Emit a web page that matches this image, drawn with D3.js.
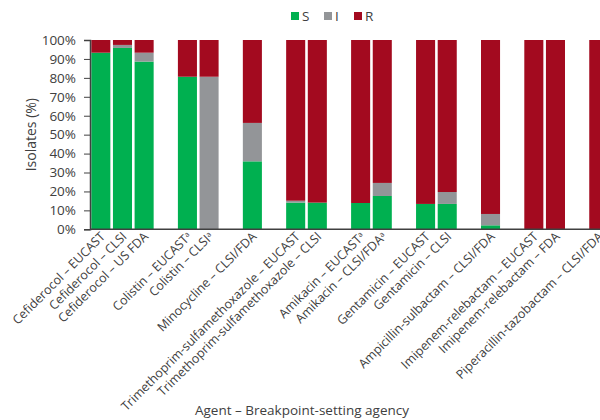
<!DOCTYPE html>
<html>
<head>
<meta charset="utf-8">
<script src="https://cdn.jsdelivr.net/npm/d3@7"></script>
<style>
  body { margin: 0; background: #fff; }
  svg text { font-family: "Open Sans", sans-serif; fill: #404040; }
</style>
</head>
<body>
<svg id="chart" width="600" height="420"></svg>
<script>
// agent – breakpoint-setting agency
const categories = [
  'Cefiderocol – EUCAST', 'Cefiderocol – CLSI', 'Cefiderocol – US FDA',
  'Colistin – EUCAST', 'Colistin – CLSI',
  'Minocycline – CLSI/FDA',
  'Trimethoprim-sulfamethoxazole – EUCAST', 'Trimethoprim-sulfamethoxazole – CLSI',
  'Amikacin – EUCAST', 'Amikacin – CLSI/FDA',
  'Gentamicin – EUCAST', 'Gentamicin – CLSI',
  'Ampicillin-sulbactam – CLSI/FDA',
  'Imipenem-relebactam – EUCAST', 'Imipenem-relebactam – FDA',
  'Piperacillin-tazobactam – CLSI/FDA'
];
const agentGroup = [0, 0, 0, 1, 1, 2, 3, 3, 4, 4, 5, 5, 6, 7, 7, 8];
const footnote   = ['', '', '', 'a', 'a', '', '', '', 'a', 'a', '', '', '', '', '', ''];

// % of isolates
const sValues = [93.3, 95.8, 88.6, 80.6, 0, 35.9, 14.1, 14.1, 13.9, 17.6, 13.4, 13.4, 2.1, 0, 0, 0];
const iValues = [0, 1.6, 4.7, 0, 80.6, 20.3, 1.0, 0, 0, 6.9, 0, 6.3, 6.0, 0, 0, 0];
const rValues = [6.7, 2.6, 6.7, 19.4, 19.4, 43.8, 84.9, 85.9, 86.1, 75.5, 86.6, 80.3, 91.9, 100, 100, 100];

const seriesKeys = ['S', 'I', 'R'];
const colors = { S: '#00b050', I: '#939598', R: '#a30a1f' };

const svg = d3.select('#chart');
const plotTop = 40, plotBottom = 229.3, plotLeft = 90;

// one empty slot between agents
const slots = [];
categories.forEach(function (c, i) {
  if (i > 0 && agentGroup[i] !== agentGroup[i - 1]) slots.push('gap' + i);
  slots.push(c);
});

const x = d3.scaleBand()
  .domain(slots)
  .range([plotLeft, plotLeft + slots.length * 21.65])
  .paddingInner(0.12)
  .paddingOuter(0.06);

const y = d3.scaleLinear().domain([0, 100]).range([plotBottom, plotTop]);

const rows = categories.map(function (c, i) {
  return { cat: c, S: sValues[i], I: iValues[i], R: rValues[i] };
});
const stacked = d3.stack().keys(seriesKeys)(rows);

svg.append('g')
  .selectAll('g')
  .data(stacked)
  .enter().append('g')
  .attr('fill', function (d) { return colors[d.key]; })
  .selectAll('rect')
  .data(function (d) { return d; })
  .enter().append('rect')
  .attr('x', function (d) { return x(d.data.cat); })
  .attr('width', x.bandwidth())
  .attr('y', function (d) { return y(d[1]); })
  .attr('height', function (d) { return Math.max(0, y(d[0]) - y(d[1])); });

// y axis
const yAxis = svg.append('g')
  .attr('transform', 'translate(' + plotLeft + ',0)')
  .call(d3.axisLeft(y).tickValues(d3.range(0, 101, 10)).tickSize(6).tickPadding(8)
    .tickFormat(function (d) { return d + '%'; }));
yAxis.select('.domain').attr('stroke', '#404040').attr('stroke-width', 1.5);
yAxis.selectAll('.tick line').attr('stroke', '#404040');
yAxis.selectAll('.tick text').style('font-size', '13.5px').attr('fill', '#404040');

// x axis line
svg.append('line')
  .attr('x1', plotLeft).attr('x2', 600)
  .attr('y1', plotBottom).attr('y2', plotBottom)
  .attr('stroke', '#404040').attr('stroke-width', 1.5);

// rotated category labels
const lbl = svg.append('g').selectAll('text')
  .data(categories)
  .enter().append('text')
  .attr('transform', function (d) {
    return 'translate(' + (x(d) + x.bandwidth() / 2 + 5) + ',' + (plotBottom + 8) + ') rotate(-45)';
  })
  .attr('text-anchor', 'end')
  .style('font-size', '12.5px')
  .text(function (d) { return d; });
lbl.filter(function (d, i) { return footnote[i]; })
  .append('tspan')
  .attr('dy', '-0.45em')
  .style('font-size', '7.5px')
  .text(function (d) { return footnote[categories.indexOf(d)]; });

// axis titles
svg.append('text')
  .attr('transform', 'translate(36,' + ((plotTop + plotBottom) / 2) + ') rotate(-90)')
  .attr('text-anchor', 'middle')
  .style('font-size', '14px')
  .text('Isolates (%)');

svg.append('text')
  .attr('x', 302).attr('y', 415)
  .attr('text-anchor', 'middle')
  .style('font-size', '13.5px')
  .text('Agent – Breakpoint-setting agency');

// legend
const legendX = [291, 324, 354];
const legend = svg.append('g').selectAll('g')
  .data(seriesKeys)
  .enter().append('g')
  .attr('transform', function (d, i) { return 'translate(' + legendX[i] + ',12)'; });
legend.append('rect')
  .attr('width', 8).attr('height', 8)
  .attr('fill', function (d) { return colors[d]; });
legend.append('text')
  .attr('x', 11).attr('y', 9)
  .style('font-size', '13.5px')
  .text(function (d) { return d; });
</script>
</body>
</html>
